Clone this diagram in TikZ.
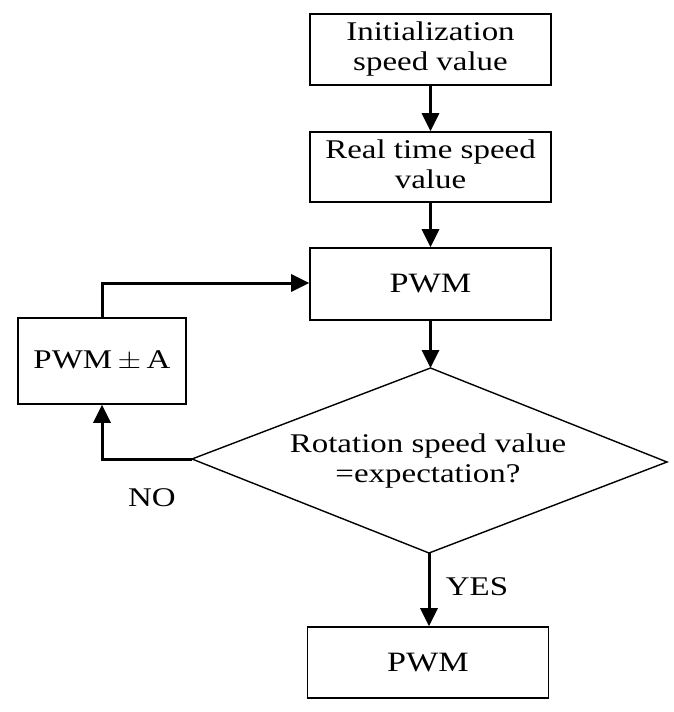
\documentclass[tikz,border=0pt]{standalone}
\usepackage{fontspec}
\setmainfont{Liberation Serif}
\usetikzlibrary{arrows.meta}
\newcommand{\sx}[1]{\scalebox{1.22}[1]{#1}}
\begin{document}
\begin{tikzpicture}[x=1pt,y=-1pt,
  boxn/.style={draw,line width=1.6pt,minimum width=241pt,inner sep=0pt,align=center,font=\fontsize{27}{32}\selectfont},
  flow/.style={line width=3pt,-{Triangle[length=18pt,width=17pt]}},
  plain/.style={line width=3pt}]
\useasboundingbox (0,0) rectangle (674,712);
\fill[white] (0,0) rectangle (674,712);
\node[boxn,minimum height=71pt] (b1) at (430.5,49.5) {\sx{\begin{tabular}{@{}c@{}}Initialization\\[-2pt]speed value\end{tabular}}};
\node[boxn,minimum height=70pt] (b2) at (430.5,167) {\sx{\begin{tabular}{@{}c@{}}Real time speed\\[-2pt]value\end{tabular}}};
\node[boxn,minimum height=72pt,font=\fontsize{28}{32}\selectfont] (b3) at (430.5,284) {\sx{PWM}};
\node[boxn,minimum width=168pt,minimum height=86pt] (adj) at (102,361) {\sx{PWM\,$\pm$\,A}};
\node[boxn,minimum height=71pt,font=\fontsize{28}{32}\selectfont] (b4) at (428,662.5) {\sx{PWM}};
% diamond
\coordinate (dt) at (430.5,368);
\coordinate (dr) at (667,462);
\coordinate (db) at (429,553);
\coordinate (dl) at (192,459);
\draw[line width=1.4pt,line join=miter] (dt) -- (dr) -- (db) -- (dl) -- cycle;
\node[align=center,font=\fontsize{27}{32}\selectfont,inner sep=0pt] (dtext) at (428,461) {\sx{\begin{tabular}{@{}c@{}}Rotation speed value\\[-2pt]=expectation?\end{tabular}}};
\coordinate (cnl) at (102,459);
\coordinate (cnu) at (102,283);
% connectors
\draw[flow] (b1.south) -- (b2.north);
\draw[flow] (b2.south) -- (b3.north);
\draw[flow] (b3.south) -- (dt);
\draw[flow] (db) -- (db |- b4.north);
\draw[flow,line join=miter] (dl) -- (cnl) -- (adj.south);
\draw[flow,line join=miter] (adj.north) -- (cnu) -- (b3.west |- cnu);
% labels
\node[font=\fontsize{27}{32}\selectfont] (no) at (152,498) {\sx{NO}};
\node[font=\fontsize{27}{32}\selectfont] (yes) at (477,587) {\sx{YES}};
\end{tikzpicture}
\end{document}
